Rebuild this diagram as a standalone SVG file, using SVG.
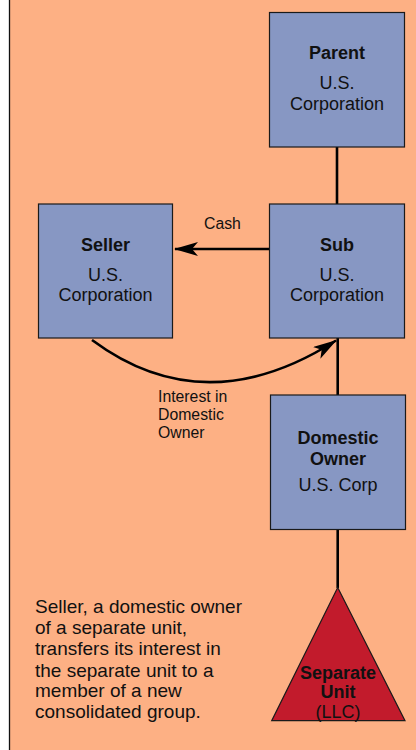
<svg xmlns="http://www.w3.org/2000/svg" width="416" height="750" viewBox="0 0 416 750">
<style>
.box{fill:#8797C3;stroke:#1a1a1a;stroke-width:1.2}
.tri{fill:#C21B2C;stroke:#1a1a1a;stroke-width:1.2}
.conn{fill:none;stroke:#000;stroke-width:2.6}
text{font-family:"Liberation Sans",Arial,sans-serif;fill:#111}
.t{font-size:18px;text-anchor:middle}
.b{font-weight:bold}
.lbl{font-size:15.8px}
.para{font-size:19px}
</style>
<defs>
<marker id="ah" markerUnits="userSpaceOnUse" viewBox="0 0 24 14" refX="23" refY="7" markerWidth="24" markerHeight="14" orient="auto">
<path d="M24,7 L0,0 L6,7 L0,14 z" fill="#000"/>
</marker>
</defs>
<rect x="0" y="0" width="416" height="750" fill="#fff"/>
<rect id="background" x="9.5" y="-5" width="420" height="770" fill="#FDB084" stroke="#111" stroke-width="1.3"/>
<g id="connectors">
<line class="conn" x1="337" y1="147" x2="337" y2="204"/>
<line class="conn" x1="337.7" y1="338" x2="337.7" y2="395"/>
<line class="conn" x1="337.7" y1="529" x2="337.7" y2="588"/>
<line class="conn" x1="269" y1="249" x2="175" y2="249" marker-end="url(#ah)"/>
<path class="conn" d="M92,340 Q205,424 336,340.5" marker-end="url(#ah)"/>
<text class="lbl" x="204" y="229">Cash</text>
<text class="lbl" x="158" y="402">Interest in</text>
<text class="lbl" x="158" y="420">Domestic</text>
<text class="lbl" x="158" y="438">Owner</text>
</g>
<g id="parent">
<rect class="box" x="269.5" y="12.5" width="135" height="134.5"/>
<text class="t b" x="337" y="58.5">Parent</text>
<text class="t" x="337" y="89">U.S.</text>
<text class="t" x="337" y="110">Corporation</text>
</g>
<g id="seller">
<rect class="box" x="38.5" y="204" width="134" height="134"/>
<text class="t b" x="105.5" y="251">Seller</text>
<text class="t" x="105.5" y="280.5">U.S.</text>
<text class="t" x="105.5" y="300.5">Corporation</text>
</g>
<g id="sub">
<rect class="box" x="269.5" y="204" width="135" height="134"/>
<text class="t b" x="337" y="251">Sub</text>
<text class="t" x="337" y="280.5">U.S.</text>
<text class="t" x="337" y="300.5">Corporation</text>
</g>
<g id="domestic-owner">
<rect class="box" x="270.5" y="395" width="135" height="134.5"/>
<text class="t b" x="338" y="443.5">Domestic</text>
<text class="t b" x="338" y="464.5">Owner</text>
<text class="t" x="338" y="491">U.S. Corp</text>
</g>
<g id="separate-unit">
<polygon class="tri" points="337.7,587.5 405,720.7 271.7,720.7"/>
<text class="t b" x="338" y="679">Separate</text>
<text class="t b" x="338" y="698">Unit</text>
<text class="t" x="338" y="717.5">(LLC)</text>
</g>
<g id="description">
<text class="para" x="35" y="612.7">Seller, a domestic owner</text>
<text class="para" x="35" y="633.5">of a separate unit,</text>
<text class="para" x="35" y="655">transfers its interest in</text>
<text class="para" x="35" y="676.5">the separate unit to a</text>
<text class="para" x="35" y="697">member of a new</text>
<text class="para" x="35" y="718.3">consolidated group.</text>
</g>
</svg>
